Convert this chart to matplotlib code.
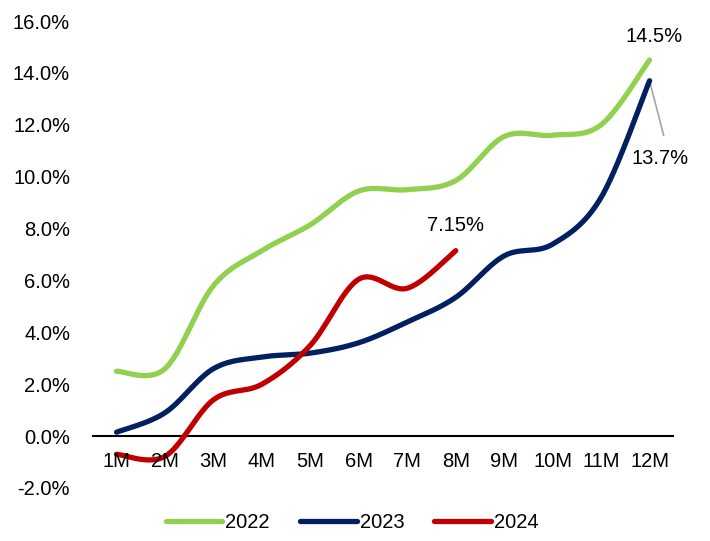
import numpy as np
import matplotlib
matplotlib.use('Agg')
import matplotlib.pyplot as plt

plt.rcParams['font.family'] = ['Liberation Sans', 'DejaVu Sans']

months = ['1M', '2M', '3M', '4M', '5M', '6M', '7M', '8M', '9M', '10M', '11M', '12M']
y2022 = [2.5, 2.6, 5.8, 7.15, 8.15, 9.45, 9.5, 9.85, 11.55, 11.6, 12.0, 14.5]
y2023 = [0.15, 0.9, 2.6, 3.05, 3.2, 3.6, 4.4, 5.35, 6.95, 7.4, 9.2, 13.7]
y2024 = [-0.7, -0.78, 1.4, 2.0, 3.5, 6.05, 5.7, 7.15]

colors = {'2022': '#92D050', '2023': '#002060', '2024': '#C00000'}


def smooth(xs, ys, n=30):
    # Excel-like smoothed line: cubic Bezier with Catmull-Rom control points
    p = np.column_stack([xs, ys]).astype(float)
    out = []
    for i in range(len(p) - 1):
        p0 = p[i - 1] if i > 0 else p[i]
        p3 = p[i + 2] if i + 2 < len(p) else p[i + 1]
        c1 = p[i] + (p[i + 1] - p0) / 6
        c2 = p[i + 1] - (p3 - p[i]) / 6
        t = np.linspace(0, 1, n)[:, None]
        seg = ((1 - t) ** 3 * p[i] + 3 * (1 - t) ** 2 * t * c1
               + 3 * (1 - t) * t ** 2 * c2 + t ** 3 * p[i + 1])
        out.append(seg if i == 0 else seg[1:])
    out = np.vstack(out)
    return out[:, 0], out[:, 1]


fig = plt.figure(figsize=(7.10, 5.41), dpi=100)
ax = fig.add_axes([0.130, 0.098, 0.819, 0.863])

for label, ys in [('2022', y2022), ('2023', y2023), ('2024', y2024)]:
    xs = np.arange(1, len(ys) + 1)
    sx, sy = smooth(xs, ys)
    ax.plot(sx, sy, color=colors[label], lw=3.8, solid_capstyle='round', label=label)

fs = 14.5
ax.set_xlim(0.5, 12.5)
ax.set_ylim(-2, 16)
ax.set_yticks(np.arange(-2, 17, 2))
ax.set_yticklabels([f'{v:.1f}%' for v in np.arange(-2, 17, 2)], fontsize=fs)
ax.set_xticks(np.arange(1, 13))
ax.set_xticklabels([])
for i, m in enumerate(months):
    ax.text(i + 1, -0.6, m, ha='center', va='top', fontsize=fs)

for s in ['top', 'right', 'left', 'bottom']:
    ax.spines[s].set_visible(False)
ax.axhline(0, color='black', lw=1.5, zorder=1)
ax.tick_params(axis='both', length=0, pad=16)

# data labels
ax.text(12.1, 15.05, '14.5%', ha='center', va='bottom', fontsize=fs)
ax.text(8, 7.75, '7.15%', ha='center', va='bottom', fontsize=fs)
ax.plot([12, 12.29], [y2023[-1], 11.6], color='#A6A6A6', lw=1.2, zorder=1)
ax.text(12.21, 10.7, '13.7%', ha='center', va='center', fontsize=fs)

ax.legend(loc='center', bbox_to_anchor=(0.447, -0.073), ncol=3, frameon=False,
          fontsize=fs, handlelength=2.8, handletextpad=0.15, columnspacing=1.5)

fig.savefig('out.png', dpi=100)
